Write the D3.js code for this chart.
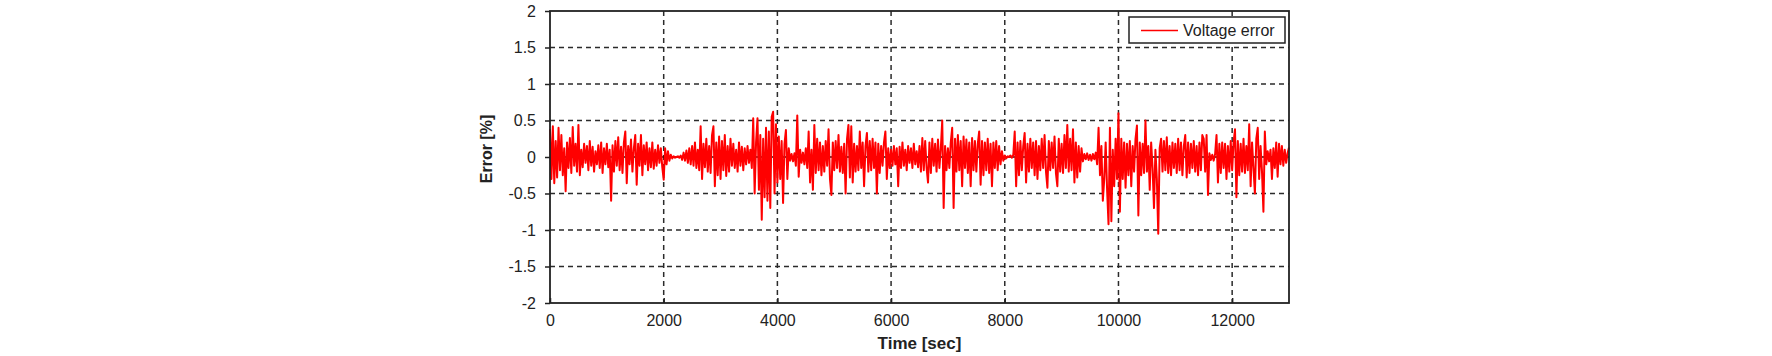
<!DOCTYPE html>
<html>
<head>
<meta charset="utf-8">
<script src="https://cdn.jsdelivr.net/npm/d3@7"></script>
<style>
  html, body { margin: 0; padding: 0; background: #fff; }
  svg { display: block; }
  text { font-family: "Liberation Sans", Arial, sans-serif; fill: #222; }
</style>
</head>
<body>
<svg id="chart" width="1772" height="356"></svg>
<script>
// ---- data ----
const timeStep = 25; // seconds between samples
const seriesName = "Voltage error";
const xTicks = [0, 2000, 4000, 6000, 8000, 10000, 12000];
const yTicks = [-2, -1.5, -1, -0.5, 0, 0.5, 1, 1.5, 2];
const xDomain = [0, 13000];
const yDomain = [-2, 2];
const xLabel = "Time [sec]";
const yLabel = "Error [%]";

const errSeg00 = [0.38,-0.30,0.42,-0.36,0.22,-0.28,0.40,-0.18,0.30,-0.25,0.12,-0.47,0.20,-0.15,0.26,-0.22,0.41,-0.12,0.18,-0.20];
const errSeg01 = [0.44,-0.25,0.10,-0.14,0.18,-0.08,0.15,-0.18,0.22,-0.12,0.14,-0.20,0.08,-0.10,0.16,-0.15,0.20,-0.22,0.12,-0.10];
const errSeg02 = [0.18,-0.14,0.10,-0.60,0.16,-0.20,0.22,-0.12,0.27,-0.18,0.14,-0.22,0.20,0.35,-0.36,0.15,-0.10,0.24,-0.20,0.12];
const errSeg03 = [0.30,-0.38,0.18,-0.12,0.30,-0.25,0.16,-0.10,0.20,-0.18,0.12,-0.14,0.20,-0.16,0.10,-0.12,0.16,-0.08,0.12,-0.14];
const errSeg04 = [-0.31,0.12,-0.10,0.08,-0.05,0.03,-0.02,0.01,-0.01,0.00,0.01,-0.01,0.02,-0.04,0.06,-0.05,0.09,-0.08,0.12,-0.10];
const errSeg05 = [0.15,-0.12,0.20,-0.15,0.10,-0.18,0.42,-0.30,0.18,-0.14,0.25,-0.20,0.15,-0.22,0.30,0.42,-0.40,0.20,-0.25,0.28];
const errSeg06 = [-0.30,0.22,-0.18,0.30,-0.26,0.15,-0.20,0.25,-0.12,0.18,-0.15,0.10,-0.20,0.20,-0.12,0.14,-0.18,0.12,-0.10,0.15];
const errSeg07 = [-0.08,0.10,-0.15,0.53,-0.50,0.20,0.53,-0.45,0.30,-0.86,0.25,-0.55,0.40,-0.60,0.35,-0.70,0.55,0.62,-0.50,0.45];
const errSeg08 = [-0.35,0.28,-0.30,0.22,-0.63,0.18,0.37,-0.30,0.12,-0.05,0.04,-0.06,0.05,-0.12,0.57,-0.27,0.10,-0.08,0.06,-0.10];
const errSeg09 = [0.12,-0.15,0.35,-0.35,0.10,-0.45,0.44,-0.22,0.25,-0.18,0.20,-0.25,0.15,-0.20,0.22,-0.12,0.38,-0.30,-0.52,0.20];
const errSeg10 = [-0.18,0.22,-0.15,0.30,-0.20,0.14,-0.22,0.18,-0.50,0.25,0.44,-0.28,0.42,-0.35,0.18,-0.20,0.15,-0.18,0.35,-0.15];
const errSeg11 = [0.20,-0.40,0.15,0.33,-0.20,0.22,-0.18,0.25,-0.15,0.20,-0.50,0.18,-0.22,0.15,-0.12,0.20,0.35,-0.30,0.12,-0.15];
const errSeg12 = [0.10,-0.12,0.15,-0.10,0.12,-0.40,0.14,-0.15,0.20,-0.12,0.10,-0.18,0.15,-0.08,0.12,-0.15,0.18,-0.10,0.08,-0.14];
const errSeg13 = [0.15,-0.20,0.26,-0.18,0.22,-0.15,-0.35,0.20,-0.22,0.25,-0.12,0.18,-0.20,0.24,-0.15,0.12,0.50,-0.70,0.15,-0.18];
const errSeg14 = [0.12,-0.15,0.20,0.40,-0.70,0.25,-0.20,0.30,-0.18,0.22,-0.40,0.28,-0.15,0.24,-0.22,0.20,-0.40,0.26,-0.18,0.22];
const errSeg15 = [-0.20,0.18,0.35,-0.38,0.22,-0.25,0.20,-0.18,0.25,-0.22,0.18,-0.40,0.20,-0.15,0.22,-0.18,0.15,-0.10,0.08,-0.05];
const errSeg16 = [0.02,-0.02,0.01,0.00,0.02,-0.01,0.03,0.35,-0.40,0.20,-0.25,0.22,-0.18,0.15,0.33,-0.35,0.18,-0.20,0.25,-0.15];
const errSeg17 = [0.20,-0.25,0.22,-0.30,0.15,-0.18,0.25,-0.15,0.30,-0.20,-0.42,0.22,-0.18,0.20,-0.15,0.28,-0.22,-0.40,0.25,-0.20];
const errSeg18 = [0.18,-0.22,0.30,-0.15,0.44,-0.20,0.25,-0.18,0.38,-0.35,0.20,-0.28,0.15,-0.20,0.12,-0.06,0.04,-0.03,0.05,-0.04];
const errSeg19 = [0.03,-0.05,0.04,-0.03,0.06,-0.10,0.40,-0.25,0.15,-0.60,-0.30,0.20,-0.45,-0.92,0.40,-0.88,0.10,-0.40,0.25,-0.30];
const errSeg20 = [0.60,-0.75,0.25,-0.30,0.20,-0.42,0.18,-0.25,0.22,-0.40,0.15,-0.20,0.25,0.43,-0.80,0.20,-0.25,0.18,-0.22,0.50];
const errSeg21 = [-0.20,0.15,-0.45,0.20,-0.15,-0.70,0.10,-0.30,-1.05,0.12,0.25,-0.20,0.22,-0.18,0.27,-0.22,0.15,-0.25,0.20,-0.15];
const errSeg22 = [0.18,-0.22,0.25,-0.18,0.20,-0.25,0.15,0.30,-0.28,0.20,-0.22,0.18,-0.15,0.22,-0.20,0.15,-0.25,0.20,-0.18,0.30];
const errSeg23 = [0.25,-0.20,0.30,-0.52,0.05,-0.04,0.03,-0.05,0.04,0.30,-0.35,0.18,-0.22,0.20,-0.15,0.18,-0.30,0.15,-0.20,0.22];
const errSeg24 = [-0.18,0.20,0.38,-0.55,0.22,-0.25,0.18,-0.20,0.25,-0.22,0.15,-0.18,0.45,-0.40,0.20,-0.15,-0.50,0.25,0.40,-0.30];
const errSeg25 = [0.15,-0.20,-0.75,0.35,-0.10,0.08,-0.06,0.10,-0.30,0.12,-0.15,0.20,-0.27,0.18,-0.10,0.15,-0.12,0.10,-0.08,0.05,0.13];

const errorValues = [].concat(errSeg00, errSeg01, errSeg02, errSeg03, errSeg04, errSeg05, errSeg06,
  errSeg07, errSeg08, errSeg09, errSeg10, errSeg11, errSeg12, errSeg13, errSeg14, errSeg15, errSeg16,
  errSeg17, errSeg18, errSeg19, errSeg20, errSeg21, errSeg22, errSeg23, errSeg24, errSeg25);
const series = errorValues.map((v, i) => ({ t: i * timeStep, v }));

// ---- layout ----
const svg = d3.select("#chart");
const plot = { left: 550, right: 1289, top: 11, bottom: 303 };
const x = d3.scaleLinear().domain(xDomain).range([plot.left, plot.right]);
const y = d3.scaleLinear().domain(yDomain).range([plot.bottom, plot.top]);

// grid
const grid = svg.append("g");
grid.selectAll("line.vg").data(xTicks.filter(d => d > xDomain[0] && d < xDomain[1]))
  .join("line").attr("class", "vg")
  .attr("x1", d => x(d)).attr("x2", d => x(d))
  .attr("y1", plot.top).attr("y2", plot.bottom)
  .attr("stroke", "#2b2b2b").attr("stroke-width", 1.5).attr("stroke-dasharray", "5,4");
grid.selectAll("line.hg").data(yTicks.filter(d => d > yDomain[0] && d < yDomain[1] && d !== 0))
  .join("line").attr("class", "hg")
  .attr("x1", plot.left).attr("x2", plot.right)
  .attr("y1", d => y(d)).attr("y2", d => y(d))
  .attr("stroke", "#2b2b2b").attr("stroke-width", 1.5).attr("stroke-dasharray", "5,4");
grid.append("line")
  .attr("x1", plot.left).attr("x2", plot.right)
  .attr("y1", y(0)).attr("y2", y(0))
  .attr("stroke", "#111").attr("stroke-width", 1.5);

// series line
const line = d3.line().x(d => x(d.t)).y(d => y(d.v));
svg.append("path").datum(series)
  .attr("d", line)
  .attr("fill", "none")
  .attr("stroke", "#ff0000")
  .attr("stroke-width", 2)
  .attr("stroke-linejoin", "round");

// frame
svg.append("rect")
  .attr("x", plot.left).attr("y", plot.top)
  .attr("width", plot.right - plot.left).attr("height", plot.bottom - plot.top)
  .attr("fill", "none").attr("stroke", "#222").attr("stroke-width", 1.8);

// axes
const yAxis = d3.axisLeft(y).tickValues(yTicks).tickSize(5).tickPadding(9).tickFormat(d => String(d));
const gy = svg.append("g").attr("transform", `translate(${plot.left},0)`).call(yAxis);
gy.select(".domain").remove();
gy.selectAll(".tick line").attr("stroke", "#222").attr("stroke-width", 1.5);
gy.selectAll(".tick text").attr("font-size", 16).attr("fill", "#222")
  .style("font-family", '"Liberation Sans", Arial, sans-serif');

const xAxis = d3.axisBottom(x).tickValues(xTicks).tickSize(-5).tickPadding(12).tickFormat(d => String(d));
const gx = svg.append("g").attr("transform", `translate(0,${plot.bottom})`).call(xAxis);
gx.select(".domain").remove();
gx.selectAll(".tick line").attr("stroke", "#222").attr("stroke-width", 1.5);
gx.selectAll(".tick text").attr("font-size", 16).attr("fill", "#222")
  .style("font-family", '"Liberation Sans", Arial, sans-serif');

// axis titles
svg.append("text")
  .attr("x", (plot.left + plot.right) / 2).attr("y", 349)
  .attr("text-anchor", "middle")
  .attr("font-size", 17).attr("font-weight", "bold")
  .text(xLabel);
svg.append("text")
  .attr("transform", `translate(492,149) rotate(-90)`)
  .attr("text-anchor", "middle")
  .attr("font-size", 16).attr("font-weight", "bold")
  .text(yLabel);

// legend
const lg = svg.append("g");
lg.append("rect").attr("x", 1129).attr("y", 17).attr("width", 156).attr("height", 26)
  .attr("fill", "#fff").attr("stroke", "#222").attr("stroke-width", 1.5);
lg.append("line").attr("x1", 1141).attr("x2", 1178).attr("y1", 30.5).attr("y2", 30.5)
  .attr("stroke", "#ff0000").attr("stroke-width", 1.5);
lg.append("text").attr("x", 1183).attr("y", 36).attr("font-size", 16).text(seriesName);
</script>
</body>
</html>
